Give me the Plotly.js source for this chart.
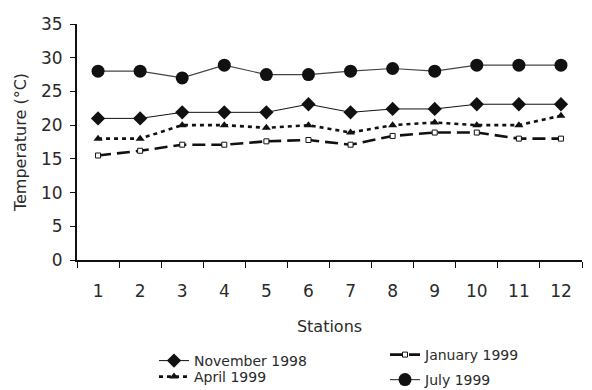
<!DOCTYPE html>
<html>
<head>
<meta charset="utf-8">
<script src="https://cdn.plot.ly/plotly-3.0.1.min.js"></script>
<style>
  html, body { margin: 0; padding: 0; background: #fff; }
  #chart { width: 592px; height: 390px; }
</style>
</head>
<body>
<div id="chart"></div>
<script>
// Water temperature at each sampling station, four campaigns
const stations = ['1', '2', '3', '4', '5', '6', '7', '8', '9', '10', '11', '12'];
const november1998 = [21.0, 21.0, 21.9, 21.9, 21.9, 23.1, 21.9, 22.4, 22.4, 23.1, 23.1, 23.1];
const january1999  = [15.5, 16.2, 17.1, 17.1, 17.6, 17.8, 17.1, 18.4, 18.9, 18.9, 18.0, 18.0];
const april1999    = [18.0, 18.0, 20.0, 20.0, 19.6, 20.0, 18.9, 20.0, 20.4, 20.0, 20.0, 21.4];
const july1999     = [28.0, 28.0, 27.0, 28.9, 27.5, 27.5, 28.0, 28.4, 28.0, 28.9, 28.9, 28.9];
const yTicks = [0, 5, 10, 15, 20, 25, 30, 35];

const FONT = 'DejaVu Sans, Verdana, sans-serif';
const INK = '#2a2a2a';

const traces = [
  {
    x: stations, y: november1998, name: 'November 1998', legend: 'legend',
    type: 'scatter', mode: 'lines+markers',
    line: { color: '#111', width: 1 },
    marker: { symbol: 'diamond', size: 11, color: '#111' }
  },
  {
    x: stations, y: january1999, name: 'January 1999', legend: 'legend2',
    type: 'scatter', mode: 'lines+markers',
    line: { color: '#111', width: 2.6, dash: '13px,6px' },
    marker: { symbol: 'square', size: 5, color: '#fff', line: { color: '#111', width: 1 } }
  },
  {
    x: stations, y: april1999, name: 'April 1999', legend: 'legend3',
    type: 'scatter', mode: 'lines+markers',
    line: { color: '#111', width: 2.6, dash: '4px,4px' },
    marker: { symbol: 'triangle-up', size: 8, color: '#111' }
  },
  {
    x: stations, y: july1999, name: 'July 1999', legend: 'legend4',
    type: 'scatter', mode: 'lines+markers',
    line: { color: '#444', width: 1.2 },
    marker: { symbol: 'circle', size: 13, color: '#111' }
  }
];

const legendBase = {
  bgcolor: 'rgba(0,0,0,0)', borderwidth: 0,
  font: { family: FONT, size: 14, color: INK },
  xanchor: 'left', yanchor: 'middle'
};

// plot area: x 77..582 px, y 24..260 px
const px = v => (v - 77) / 505;
const py = v => (260 - v) / 236;

const layout = {
  width: 592, height: 390,
  paper_bgcolor: '#fff', plot_bgcolor: '#fff',
  margin: { l: 77, r: 10, t: 24, b: 130, autoexpand: false },
  font: { family: FONT, color: INK },
  xaxis: {
    type: 'category', range: [-0.5, 11.5],
    tickson: 'boundaries', ticks: 'outside', ticklen: 6, tickwidth: 1, tickcolor: '#111',
    showline: true, linecolor: '#111', linewidth: 2,
    showgrid: false, zeroline: false,
    tickfont: { family: FONT, size: 17, color: INK },
    ticklabelstandoff: 15,
    title: { text: 'Stations', font: { family: FONT, size: 16, color: INK }, standoff: 20 }
  },
  yaxis: {
    range: [0, 35], tickvals: yTicks, ticktext: yTicks.map(String),
    ticks: 'outside', ticklen: 5, tickwidth: 1, tickcolor: '#111',
    showline: true, linecolor: '#111', linewidth: 2,
    showgrid: false, zeroline: false,
    tickfont: { family: FONT, size: 17, color: INK },
    ticklabelstandoff: 4,
    title: { text: 'Temperature (°C)', font: { family: FONT, size: 16, color: INK }, standoff: 10 }
  },
  legend:  Object.assign({}, legendBase, { x: px(154), y: py(361) }),
  legend2: Object.assign({}, legendBase, { x: px(385), y: py(355) }),
  legend3: Object.assign({}, legendBase, { x: px(154), y: py(377) }),
  legend4: Object.assign({}, legendBase, { x: px(385), y: py(380) }),
  showlegend: true
};

Plotly.newPlot('chart', traces, layout, { displayModeBar: false, staticPlot: true });
</script>
</body>
</html>
